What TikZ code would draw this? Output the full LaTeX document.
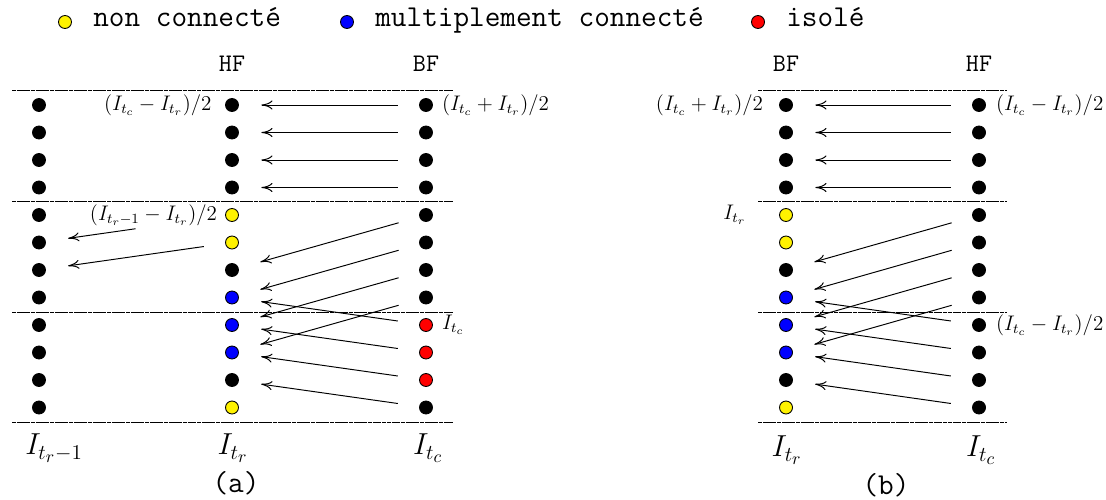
\documentclass[tikz,border=0pt]{standalone}
\usepackage{amsmath,amssymb}
\usepackage{tikz}
\usetikzlibrary{positioning,arrows.meta}
\usepackage{xcolor}

\begin{document}
\begin{tikzpicture}[x=0.02cm, y=-0.02cm, font=\large,
  dot/.style={circle, draw, fill=#1, line width=0.5pt, inner sep=0pt, minimum size=2.6mm},
  tr/.style={-{To[length=2.2mm,width=1.8mm]}, line width=0.55pt, shorten <=4.3mm, shorten >=4.5mm},
  sep/.style={line width=0.5pt, dash pattern=on 2.4pt off 0.3pt},
  key/.style={font=\LARGE\ttfamily, anchor=base west, inner sep=0pt},
  hd/.style={font=\Large\ttfamily, anchor=base},
  lbl/.style={font=\large, inner sep=1pt},
  bot/.style={font=\LARGE}]
\useasboundingbox (0,0) rectangle (1106,500);

% legend
\node[dot=yellow] (ky) at (65,22) {};
\node[key] (tky) at (93,27) {non connecté};
\node[dot=blue] (kb) at (347,22) {};
\node[key] (tkb) at (375,27) {multiplement connecté};
\node[dot=red] (kr) at (758,22) {};
\node[key] (tkr) at (786,27) {isolé};

% (a)
\node[hd] (hfa) at (232,72) {HF};
\node[hd] (bfa) at (426,72) {BF};
\foreach \y in {90,201,312,422} \draw[sep] (12,\y) -- (453,\y);
\foreach \i in {1,...,12} \node[dot=black] (aL\i) at (39,{105+27.5*(\i-1)}) {};
\foreach \c [count=\i] in {black,black,black,black,yellow,yellow,black,blue,blue,blue,black,yellow}
  \node[dot=\c] (aH\i) at (232,{105+27.5*(\i-1)}) {};
\foreach \c [count=\i] in {black,black,black,black,black,black,black,black,red,red,red,black}
  \node[dot=\c] (aB\i) at (426,{105+27.5*(\i-1)}) {};
\foreach \i in {1,...,4} \draw[tr] (aB\i) -- (aH\i);
\foreach \i/\j in {5/7,6/8,7/9,8/10,9/8,10/9,11/10,12/11} \draw[tr] (aB\i) -- (aH\j);
\draw[tr, shorten <=18.1mm] (aH5) -- (aL6);
\draw[tr] (aH6) -- (aL7);
\node[lbl, left=2.3mm of aH1] {$(I_{t_c}-I_{t_r})/2$};
\node[lbl, right=1.4mm of aB1] {$(I_{t_c}+I_{t_r})/2$};
\node[lbl, left=1.2mm of aH5] {$(I_{t_r-1}-I_{t_r})/2$};
\node[lbl, right=1.4mm of aB9] {$I_{t_c}$};
\node[bot] (ia1) at (54,448) {$I_{t_r-1}$};
\node[bot] (ia2) at (233,448) {$I_{t_r}$};
\node[bot] (ia3) at (428,448) {$I_{t_c}$};
\node[font=\LARGE\ttfamily] (capa) at (236,483) {(a)};

% (b)
\node[hd] (bfb) at (786,72) {BF};
\node[hd] (hfb) at (979,72) {HF};
\foreach \y in {90,201,312,422} \draw[sep] (758,\y) -- (1007,\y);
\foreach \c [count=\i] in {black,black,black,black,yellow,yellow,black,blue,blue,blue,black,yellow}
  \node[dot=\c] (bB\i) at (786,{105+27.5*(\i-1)}) {};
\foreach \i in {1,...,12} \node[dot=black] (bH\i) at (979,{105+27.5*(\i-1)}) {};
\foreach \i in {1,...,4} \draw[tr] (bH\i) -- (bB\i);
\foreach \i/\j in {5/7,6/8,7/9,8/10,9/8,10/9,11/10,12/11} \draw[tr] (bH\i) -- (bB\j);
\node[lbl, left=2.8mm of bB1] {$(I_{t_c}+I_{t_r})/2$};
\node[lbl, right=1.6mm of bH1] {$(I_{t_c}-I_{t_r})/2$};
\node[lbl, left=6.2mm of bB5] {$I_{t_r}$};
\node[lbl, right=1.6mm of bH9] {$(I_{t_c}-I_{t_r})/2$};
\node[bot] (ib1) at (787,450) {$I_{t_r}$};
\node[bot] (ib2) at (981,450) {$I_{t_c}$};
\node[font=\LARGE\ttfamily] (capb) at (886,485) {(b)};
\end{tikzpicture}
\end{document}
